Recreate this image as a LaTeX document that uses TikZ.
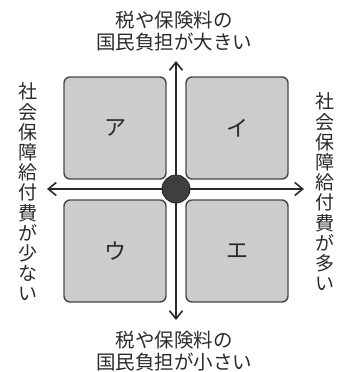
\documentclass[tikz,border=0pt]{standalone}
\usepackage{fontspec}
\newfontfamily\jp{Noto Sans CJK JP}
\usetikzlibrary{arrows.meta}
\definecolor{txt}{HTML}{2A2A2A}
\definecolor{boxfill}{HTML}{CCCCCC}
\definecolor{boxline}{HTML}{474747}
\tikzset{
  quad/.style={draw=boxline, line width=1.4pt, fill=boxfill, rounded corners=6pt,
    minimum width=102pt, minimum height=102pt, inner sep=0pt, font=\jp\fontsize{22}{22}\selectfont, text=txt},
  axis/.style={draw=txt, line width=1.8pt, -{Straight Barb[length=8pt,width=13pt,line width=1.6pt]}},
  label/.style={font=\jp\fontsize{19.5}{22.5}\selectfont, text=txt, align=center, inner sep=0pt},
  vlabel/.style={font=\jp\fontsize{19}{20.2}\selectfont, text=txt, align=center, inner sep=0pt}
}
\begin{document}
\begin{tikzpicture}[x=1pt,y=-1pt]
\useasboundingbox (0,0) rectangle (348,372);
\node[quad] (a) at (115,128) {ア};
\node[quad] (i) at (237,128) {イ};
\node[quad] (u) at (115,251) {ウ};
\node[quad] (e) at (237,251) {エ};
\coordinate (c) at (176,189);
\coordinate (top) at (176,61);
\coordinate (bot) at (176,320);
\coordinate (lft) at (47,189);
\coordinate (rgt) at (304,189);
\draw[axis] (c) -- (top);
\draw[axis] (c) -- (bot);
\draw[axis] (c) -- (lft);
\draw[axis] (c) -- (rgt);
\node[circle, fill=txt!90, draw=black!85, line width=0.8pt, minimum size=28pt, inner sep=0pt] (dot) at (c) {};
\node[label] (tt) at (174,31) {税や保険料の\\国民負担が大きい};
\node[label] (bt) at (174,351) {税や保険料の\\国民負担が小さい};
\node[vlabel] (lt) at (28,192) {社\\会\\保\\障\\給\\付\\費\\が\\少\\な\\い};
\node[vlabel] (rt) at (325,192) {社\\会\\保\\障\\給\\付\\費\\が\\多\\い};
\end{tikzpicture}
\end{document}
